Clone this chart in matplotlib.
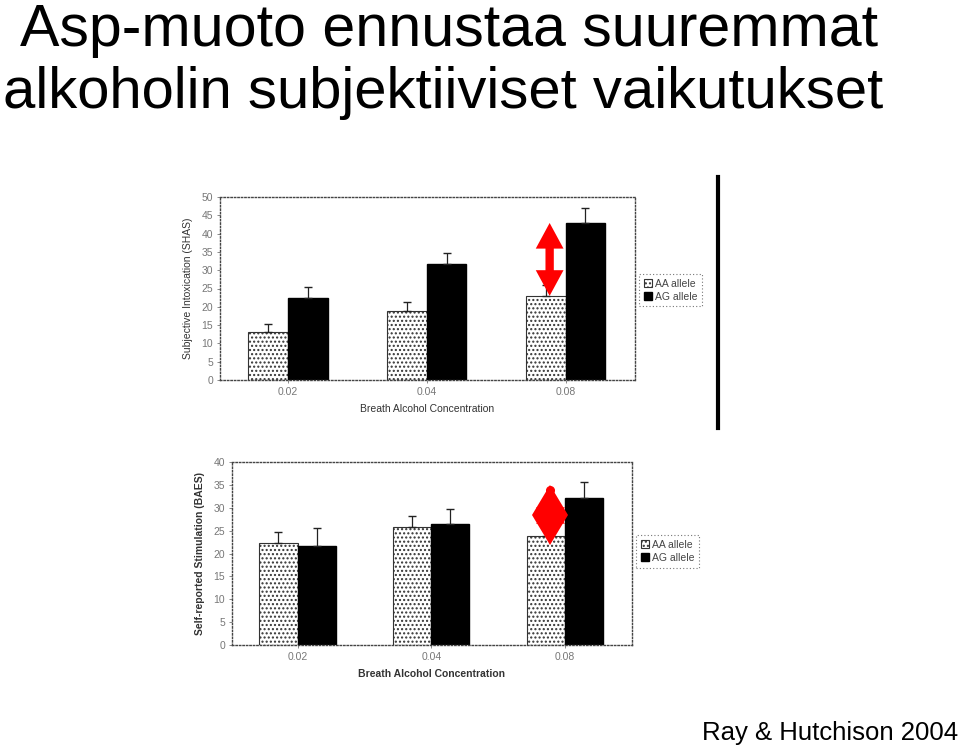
import matplotlib.pyplot as plt
import numpy as np

# data
bac = ['0.02', '0.04', '0.08']
shas_aa = [13.1, 18.8, 23.0]
shas_ag = [22.4, 31.7, 42.9]
shas_aa_err = [2.2, 2.5, 3.0]
shas_ag_err = [3.0, 3.0, 4.0]
baes_aa = [22.3, 25.8, 23.8]
baes_ag = [21.6, 26.4, 32.1]
baes_aa_err = [2.4, 2.4, 2.5]
baes_ag_err = [3.9, 3.3, 3.5]
labels = ['AA allele', 'AG allele']

plt.rcParams['font.family'] = ['Liberation Sans', 'DejaVu Sans']
plt.rcParams['hatch.linewidth'] = 1.0

fig = plt.figure(figsize=(9.6, 7.45), dpi=100)

fig.text(20 / 960, 1 - 46 / 745, 'Asp-muoto ennustaa suuremmat',
         fontsize=42.6, va='baseline', ha='left')
fig.text(3 / 960, 1 - 108 / 745, 'alkoholin subjektiiviset vaikutukset',
         fontsize=41.8, va='baseline', ha='left')
fig.text(958 / 960, 1 - 740 / 745, 'Ray & Hutchison 2004',
         fontsize=18.5, va='baseline', ha='right')


def bar_panel(rect, aa, ag, aa_err, ag_err, ymax, ylabel, bold, legend_y):
    ax = fig.add_axes(rect)
    x = np.arange(len(bac))
    w = 0.285
    ax.bar(x - w / 2, aa, w, color='white', edgecolor='#333333', hatch='....',
           linewidth=0.8, label=labels[0])
    ax.bar(x + w / 2, ag, w, color='black', edgecolor='black', label=labels[1])
    ax.errorbar(x - w / 2, aa, yerr=[[0] * 3, aa_err], fmt='none',
                ecolor='#222222', capsize=3, elinewidth=0.9)
    ax.errorbar(x + w / 2, ag, yerr=[[0] * 3, ag_err], fmt='none',
                ecolor='#222222', capsize=3, elinewidth=0.9)
    ax.set_xlim(-0.49, 2.5)
    ax.set_ylim(0, ymax)
    ax.set_yticks(np.arange(0, ymax + 1, 5))
    ax.set_xticks(x)
    ax.set_xticklabels(bac)
    for s in ax.spines.values():
        s.set_linestyle((0, (1, 1.5)))
        s.set_color('#444444')
        s.set_linewidth(1.0)
    ax.tick_params(length=2, width=0.6, colors='#777777', labelsize=7.5,
                   pad=3)
    fw = 'bold' if bold else 'normal'
    ax.set_xlabel('Breath Alcohol Concentration', fontsize=7.5, color='#333333',
                  fontweight=fw, labelpad=5)
    ax.set_ylabel(ylabel, fontsize=7.5, color='#333333', fontweight=fw,
                  labelpad=6)
    leg = ax.legend(loc='upper left', bbox_to_anchor=(1.01, legend_y),
                    fontsize=7.5, frameon=True, fancybox=False,
                    handlelength=0.8, handleheight=0.8, handletextpad=0.3,
                    borderpad=0.45, labelspacing=0.3, borderaxespad=0)
    leg.get_frame().set_linestyle((0, (1, 2)))
    leg.get_frame().set_edgecolor('#555555')
    leg.get_frame().set_linewidth(0.8)
    for t in leg.get_texts():
        t.set_color('#444444')
    return ax


ax1 = bar_panel([220 / 960, 1 - 380 / 745, 415 / 960, 183 / 745],
                shas_aa, shas_ag, shas_aa_err, shas_ag_err, 50,
                'Subjective Intoxication (SHAS)', False, 0.58)
ax2 = bar_panel([232 / 960, 1 - 645 / 745, 400 / 960, 183 / 745],
                baes_aa, baes_ag, baes_aa_err, baes_ag_err, 40,
                'Self-reported Stimulation (BAES)', True, 0.60)

# red double arrow between the 0.08 bars (top panel)
ax_x, hw, sw, hl = 1.885, 0.10, 0.03, 7.0
lo, hi = shas_aa[2], shas_ag[2]
ax1.fill([ax_x, ax_x + hw, ax_x + sw, ax_x + sw, ax_x + hw, ax_x,
          ax_x - hw, ax_x - sw, ax_x - sw, ax_x - hw],
         [hi, hi - hl, hi - hl, lo + hl, lo + hl, lo,
          lo + hl, lo + hl, hi - hl, hi - hl], color='red', lw=0, zorder=5)

# red marker on the 0.08 bars (bottom panel)
mid2 = (baes_aa[2] + baes_ag[2]) / 2 + 0.4
ax2.plot([1.885], [mid2], marker='d', color='red', markersize=31, mew=0)
ax2.plot([1.885], [mid2], marker=(6, 1, 0), color='red', markersize=24, mew=0)
ax2.plot([1.885], [baes_ag[2] + 1.7], marker='o', color='red', markersize=5.5)

# vertical black separator line
fig.add_artist(plt.Line2D([718 / 960, 718 / 960], [1 - 428 / 745, 1 - 177 / 745],
                          color='black', lw=3))

fig.savefig('out.png', dpi=100)
